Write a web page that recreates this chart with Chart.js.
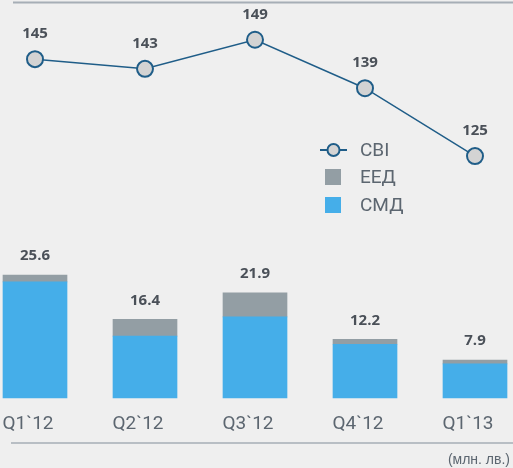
<!DOCTYPE html>
<html>
<head>
<meta charset="utf-8">
<script src="https://cdn.jsdelivr.net/npm/chart.js@4"></script>
<style>
  html, body { margin: 0; padding: 0; background: #efefef; }
  #wrap { width: 513px; height: 468px; position: relative; }
</style>
</head>
<body>
<div id="wrap"><canvas id="chart" width="513" height="468"></canvas></div>
<script>
// quarters and series
const quarters = ['Q1`12', 'Q2`12', 'Q3`12', 'Q4`12', 'Q1`13'];
const cbiValues = [145, 143, 149, 139, 125];
const smdValues = [24.2, 12.9, 16.9, 11.2, 7.1];
const eedValues = [1.4, 3.5, 5.0, 1.0, 0.8];
const unitNote = '(млн. лв.)';

const BLUE = '#45aee9';
const GRAY = '#939ea4';
const LINE = '#1f5d88';
const TEXT = '#5c6670';
const VALUE = '#4a5058';
const labelFont = '19px "Liberation Sans Narrow", "Roboto", sans-serif';

// value labels, legend and rules drawn on top of the chart
const decorations = {
  id: 'decorations',
  afterDatasetsDraw(chart) {
    const ctx = chart.ctx;
    ctx.save();

    // line values
    ctx.font = 'bold 15px "Open Sans", sans-serif';
    ctx.fillStyle = VALUE;
    ctx.textAlign = 'center';
    ctx.textBaseline = 'middle';
    chart.getDatasetMeta(0).data.forEach((pt, i) => {
      ctx.fillText(String(cbiValues[i]), pt.x, pt.y - 25);
    });

    // stacked totals
    chart.getDatasetMeta(2).data.forEach((bar, i) => {
      const total = smdValues[i] + eedValues[i];
      ctx.fillText(total.toFixed(1), bar.x, bar.y - 19);
    });

    // rules
    ctx.strokeStyle = '#a6aeb6';
    ctx.lineWidth = 2;
    ctx.beginPath();
    ctx.moveTo(13, 2.5);
    ctx.lineTo(513, 2.5);
    ctx.stroke();
    ctx.lineWidth = 1.5;
    ctx.beginPath();
    ctx.moveTo(11, 443);
    ctx.lineTo(513, 443);
    ctx.stroke();

    // unit note
    ctx.font = '14px "Liberation Sans Narrow", sans-serif';
    ctx.fillStyle = TEXT;
    ctx.textAlign = 'right';
    ctx.fillText(unitNote, 510, 460);

    // legend
    const lx = 320, tx = 360;
    ctx.strokeStyle = LINE;
    ctx.lineWidth = 2;
    ctx.beginPath();
    ctx.moveTo(lx, 150);
    ctx.lineTo(lx + 27, 150);
    ctx.stroke();
    ctx.beginPath();
    ctx.arc(lx + 13.5, 150, 6, 0, Math.PI * 2);
    ctx.fillStyle = '#d4d4d4';
    ctx.fill();
    ctx.stroke();
    ctx.fillStyle = GRAY;
    ctx.fillRect(325, 169, 16, 16);
    ctx.fillStyle = BLUE;
    ctx.fillRect(325, 197, 16, 16);

    ctx.font = labelFont;
    ctx.fillStyle = TEXT;
    ctx.textAlign = 'left';
    ctx.fillText(chart.data.datasets[0].label, tx, 151);
    ctx.fillText(chart.data.datasets[2].label, tx, 178);
    ctx.fillText(chart.data.datasets[1].label, tx, 206);

    ctx.restore();
  }
};

const ctx = document.getElementById('chart').getContext('2d');
const chart = new Chart(ctx, {
  data: {
    labels: quarters,
    datasets: [
      {
        type: 'line',
        label: 'CBI',
        data: cbiValues,
        yAxisID: 'y2',
        borderColor: LINE,
        borderWidth: 1.5,
        pointRadius: 8,
        pointBorderWidth: 2,
        pointBackgroundColor: '#d3d3d3',
        pointBorderColor: LINE,
        order: 0,
        clip: false,
      },
      {
        type: 'bar',
        label: 'СМД',
        data: smdValues,
        yAxisID: 'y',
        backgroundColor: BLUE,
        barThickness: 64,
        stack: 'a',
        order: 1,
        clip: false,
      },
      {
        type: 'bar',
        label: 'ЕЕД',
        data: eedValues,
        yAxisID: 'y',
        backgroundColor: GRAY,
        barThickness: 64,
        stack: 'a',
        order: 2,
        clip: false,
      },
    ],
  },
  options: {
    responsive: false,
    animation: false,
    layout: { autoPadding: false, padding: { left: 35, right: 38, top: 0, bottom: 0 } },
    plugins: { legend: { display: false }, tooltip: { enabled: false } },
    scales: {
      x: {
        offset: false,
        grid: { display: false, drawTicks: false },
        border: { display: false },
        ticks: {
          color: TEXT,
          font: { family: '"Liberation Sans Narrow", "Roboto", sans-serif', size: 19 },
          padding: 15,
          labelOffset: -7,
          maxRotation: 0,
          autoSkip: false,
        },
        afterFit(scale) {
          scale.height = 70;
          scale.paddingLeft = 0;
          scale.paddingRight = 0;
        },
      },
      y: {
        display: false,
        stacked: true,
        min: 0,
        max: 82.9,
      },
      y2: {
        display: false,
        min: 75.1,
        max: 157.2,
      },
    },
  },
  plugins: [decorations],
});
</script>
</body>
</html>
